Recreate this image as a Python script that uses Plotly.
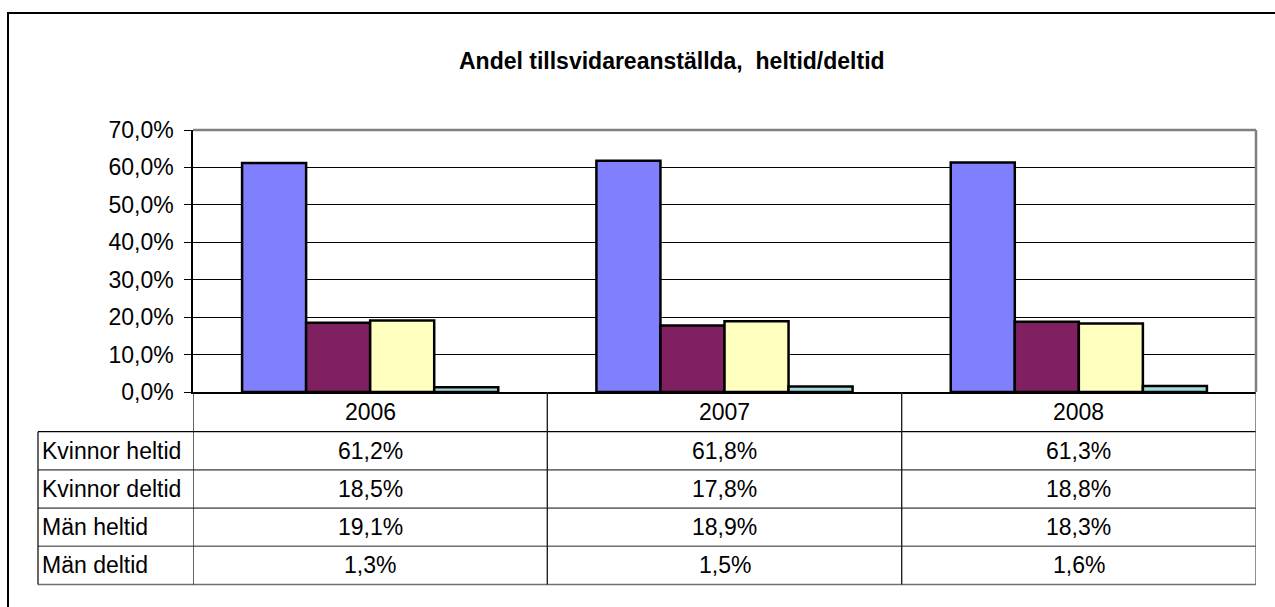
import plotly.graph_objects as go

# ---- data ----
years = ["2006", "2007", "2008"]
series_names = ["Kvinnor heltid", "Kvinnor deltid", "Män heltid", "Män deltid"]
kvinnor_heltid = [0.612, 0.618, 0.613]
kvinnor_deltid = [0.185, 0.178, 0.188]
man_heltid = [0.191, 0.189, 0.183]
man_deltid = [0.013, 0.015, 0.016]
series_values = [kvinnor_heltid, kvinnor_deltid, man_heltid, man_deltid]
colors = ["#8080FF", "#802060", "#FFFFC0", "#A0DCDC"]
y_ticks = [0, 0.1, 0.2, 0.3, 0.4, 0.5, 0.6, 0.7]
title_text = "Andel tillsvidareanställda,  heltid/deltid"

W, H = 1275, 607
FONT = "Arial, Liberation Sans, sans-serif"
FS = 23


def px(x):
    return x / W


def py(y):
    return 1 - y / H


# layout geometry (pixels)
plot_l, plot_r, plot_t, plot_b = 193, 1256, 130, 392
table_l = 38
row_h = 38.2
header_b = plot_b + 39.7
row_edges = [header_b + i * row_h for i in range(5)]

xpos = list(range(len(years)))  # category index positions

fig = go.Figure()
for name, vals, col in zip(series_names, series_values, colors):
    fig.add_trace(go.Bar(
        x=xpos, y=vals, name=name,
        marker=dict(color=col, line=dict(color="black", width=2.5)),
        hoverinfo="skip",
    ))

shapes = []
annotations = []

# plot area top/right border (gray)
shapes.append(dict(type="line", xref="paper", yref="paper",
                   x0=px(plot_l), x1=px(plot_r), y0=py(plot_t), y1=py(plot_t),
                   line=dict(color="#808080", width=2.5)))
shapes.append(dict(type="line", xref="paper", yref="paper",
                   x0=px(plot_r), x1=px(plot_r), y0=py(plot_t), y1=py(plot_b),
                   line=dict(color="#808080", width=2.5)))

# table horizontal lines
shapes.append(dict(type="line", xref="paper", yref="paper",
                   x0=px(table_l), x1=px(plot_r), y0=py(row_edges[0]), y1=py(row_edges[0]),
                   line=dict(color="black", width=1.2)))
for e in row_edges[1:]:
    shapes.append(dict(type="line", xref="paper", yref="paper",
                       x0=px(table_l), x1=px(plot_r), y0=py(e), y1=py(e),
                       line=dict(color="#707070", width=1.6)))
# table left border
shapes.append(dict(type="line", xref="paper", yref="paper",
                   x0=px(table_l), x1=px(table_l), y0=py(row_edges[0]), y1=py(row_edges[-1]),
                   line=dict(color="black", width=1.2)))
# vertical separators at category boundaries
for i in range(len(years) + 1):
    b = i - 0.5
    shapes.append(dict(type="line", xref="x", yref="paper",
                       x0=b, x1=b, y0=py(plot_b), y1=py(row_edges[-1]),
                       line=dict(color="#202020" if i < len(years) else "#606060", width=1.4)))

# outer chart border
shapes.append(dict(type="rect", xref="paper", yref="paper",
                   x0=px(8), x1=1.05, y0=-0.05, y1=py(13),
                   line=dict(color="black", width=2), fillcolor="rgba(0,0,0,0)"))

# header row: years
for xi, yr in zip(xpos, years):
    annotations.append(dict(xref="x", yref="paper", x=xi,
                            y=py((plot_b + row_edges[0]) / 2), text=yr, showarrow=False,
                            font=dict(family=FONT, size=FS, color="black"),
                            xanchor="center", yanchor="middle"))
# data rows
for r, (name, vals) in enumerate(zip(series_names, series_values)):
    yc = py((row_edges[r] + row_edges[r + 1]) / 2)
    annotations.append(dict(xref="paper", yref="paper", x=px(table_l + 2), y=yc,
                            text=name, showarrow=False,
                            font=dict(family=FONT, size=FS, color="black"),
                            xanchor="left", yanchor="middle"))
    for xi, v in zip(xpos, vals):
        annotations.append(dict(xref="x", yref="paper", x=xi, y=yc,
                                text=f"{v * 100:.1f}%".replace(".", ","), showarrow=False,
                                font=dict(family=FONT, size=FS, color="black"),
                                xanchor="center", yanchor="middle"))

# title
annotations.append(dict(xref="paper", yref="paper", x=px(672), y=py(61),
                        text=f"<b>{title_text}</b>", showarrow=False,
                        font=dict(family=FONT, size=FS, color="black"),
                        xanchor="center", yanchor="middle"))

fig.update_layout(
    width=W, height=H,
    margin=dict(l=0, r=0, t=0, b=0, autoexpand=False),
    paper_bgcolor="white", plot_bgcolor="white",
    separators=", ",
    showlegend=False,
    barmode="group", bargap=0.277, bargroupgap=0,
    font=dict(family=FONT, size=FS, color="black"),
    xaxis=dict(domain=[px(plot_l), px(plot_r)], range=[-0.5, len(years) - 0.5],
               showticklabels=False, ticks="", showgrid=False, zeroline=False,
               showline=True, linecolor="black", linewidth=1.5, fixedrange=True,
               automargin=False),
    yaxis=dict(domain=[py(plot_b), py(plot_t)], range=[0, 0.7],
               tickvals=y_ticks, tickformat=".1%",
               ticks="outside", ticklen=7, tickcolor="black", tickwidth=1,
               ticklabelstandoff=6,
               tickfont=dict(family=FONT, size=FS, color="black"),
               showgrid=True, gridcolor="black", gridwidth=1,
               showline=True, linecolor="black", linewidth=1.5,
               zeroline=False, fixedrange=True, automargin=False),
    shapes=shapes, annotations=annotations,
)

fig.write_html("out.html", config={"displayModeBar": False},
               post_script="document.body.style.margin='0';document.body.style.overflow='hidden';")
